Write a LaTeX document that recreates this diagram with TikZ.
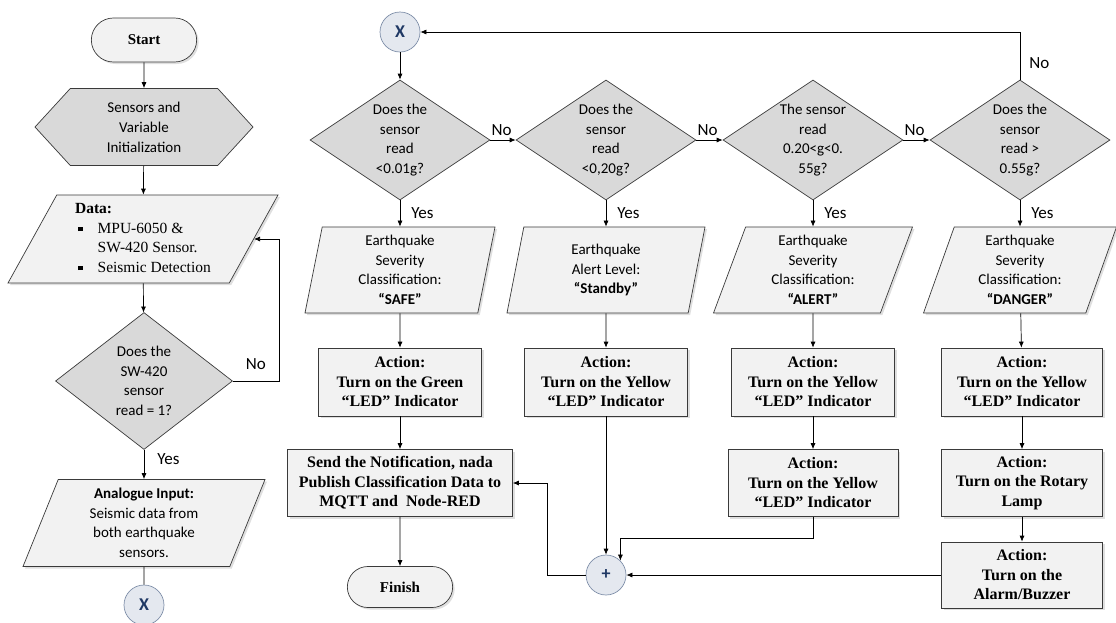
\documentclass[tikz,border=0pt]{standalone}
\usepackage{fontspec}
\setmainfont{Liberation Serif}
\newfontfamily\calib{Carlito}
\usetikzlibrary{shapes.geometric,shapes.misc,shapes.symbols,arrows.meta,shadows}
\definecolor{boxfill}{HTML}{F2F2F2}
\definecolor{decfill}{HTML}{D9D9D9}
\definecolor{conline}{HTML}{7F8FA9}
\definecolor{confill}{HTML}{E4E8EF}
\definecolor{connavy}{HTML}{1F3864}
\definecolor{edgegray}{HTML}{3A3A3A}
\newcommand{\sqbul}{\rule[2pt]{4.5pt}{4.5pt}}
\tikzset{
	boxshadow/.style={drop shadow={shadow xshift=2pt,shadow yshift=-2pt,opacity=0.25}},
	term/.style={rounded rectangle,draw=edgegray,line width=0.7pt,fill=boxfill,boxshadow,minimum width=112pt,minimum height=44pt,font=\fontsize{15}{19}\selectfont\bfseries},
	prep/.style={signal,signal to=east and west,signal pointer angle=95,draw=edgegray,line width=0.7pt,fill=decfill,minimum width=218pt,minimum height=77pt,inner sep=0pt,align=center,font=\calib\fontsize{15}{20}\selectfont},
	io/.style={trapezium,trapezium left angle=#1,trapezium right angle/.evaluated={180-#1},trapezium stretches body,draw=edgegray,line width=0.7pt,fill=boxfill,boxshadow,inner sep=0pt,align=center,minimum height=86pt,minimum width=196pt,font=\calib\fontsize{15}{19.5}\selectfont},
	decision/.style={diamond,shape aspect=1.5,draw=edgegray,line width=0.7pt,fill=decfill,minimum width=180pt,minimum height=120pt,inner sep=0pt,align=center,font=\calib\fontsize{15}{19.5}\selectfont},
	act/.style={rectangle,draw=edgegray,line width=0.7pt,fill=boxfill,boxshadow,minimum width=163pt,minimum height=68pt,inner sep=2pt,align=center,font=\fontsize{16}{19.5}\selectfont\bfseries},
	conn/.style={circle,draw=conline,line width=0.7pt,fill=confill,minimum size=40pt,inner sep=0pt,text=connavy,font=\calib\fontsize{18}{18}\selectfont\bfseries},
	arr/.style={draw=black,line width=0.7pt,-{Latex[length=6pt,width=5pt]}},
	lbl/.style={inner sep=1pt,font=\calib\fontsize{17}{17}\selectfont}
}
\begin{document}
\begin{tikzpicture}[x=1pt,y=-1pt]
	\useasboundingbox (0,0) rectangle (1116,622);
	
	\node[term] (start) at (144,40) {Start};
	\node[prep] (init) at (144,127) {Sensors and\\Variable\\Initialization};
	\node[io=58,minimum width=270pt,minimum height=88pt,font=\fontsize{15.5}{19.5}\selectfont] (data) at (143,239) {\begin{tabular}{@{}l@{\hspace{15pt}}l@{}}
		\multicolumn{2}{@{}l}{\textbf{Data:}}\\
		\hspace*{3pt}\sqbul & MPU-6050 \&\\
		 & SW-420 Sensor.\\
		\hspace*{3pt}\sqbul & Seismic Detection
	\end{tabular}};
	\node[decision,minimum width=177pt,minimum height=137pt,shape aspect=1.3] (ld) at (144,381) {Does the\\SW-420\\sensor\\read = 1?};
	\node[io=63,minimum width=242pt,minimum height=87pt] (ana) at (144,523) {\textbf{Analogue Input:}\\Seismic data from\\both earthquake\\sensors.};
	\node[conn] (lx) at (144,605) {X};
	
	\node[conn] (xtop) at (400,32) {X};
	\node[decision] (d1) at (400,140) {Does the\\sensor\\read\\<0.01g?};
	\node[decision] (d2) at (606,140) {Does the\\sensor\\read\\<0,20g?};
	\node[decision] (d3) at (813,140) {The sensor\\read\\0.20<g<0.\\55g?};
	\node[decision] (d4) at (1020,140) {Does the\\sensor\\read >\\0.55g?};
	
	\node[io=76,minimum width=190pt] (p1) at (400,270) {Earthquake\\Severity\\Classification:\\\textbf{“SAFE”}};
	\node[io=72,minimum width=198pt] (p2) at (606,270) {Earthquake\\Alert Level:\\\textbf{“Standby”}};
	\node[io=65,minimum width=199pt] (p3) at (813,270) {Earthquake\\Severity\\Classification:\\\textbf{“ALERT”}};
	\node[io=66,minimum width=193pt] (p4) at (1020,270) {Earthquake\\Severity\\Classification:\\\textbf{“DANGER”}};
	
	\node[act] (a1) at (400,382) {Action:\\Turn on the Green\\“LED” Indicator};
	\node[act] (a2) at (606,382) {Action:\\Turn on the Yellow\\“LED” Indicator};
	\node[act] (a3) at (813,382) {Action:\\Turn on the Yellow\\“LED” Indicator};
	\node[act,minimum width=161pt] (a4) at (1022,382) {Action:\\Turn on the Yellow\\“LED” Indicator};
	
	\node[act,minimum width=225pt,minimum height=67pt] (send) at (400,483) {Send the Notification, nada\\Publish Classification Data to\\MQTT and~~Node-RED};
	\node[act,minimum width=170pt,minimum height=67pt] (a3b) at (813,483) {Action:\\Turn on the Yellow\\“LED” Indicator};
	\node[act,minimum width=161pt,minimum height=67pt] (a4b) at (1022,483) {Action:\\Turn on the Rotary\\Lamp};
	\node[act,minimum width=161pt,minimum height=66pt] (a4c) at (1022,575) {Action:\\Turn on the\\Alarm/Buzzer};
	
	\node[term,minimum height=41pt] (fin) at (400,587) {Finish};
	\node[conn] (plus) at (606,575) {+};
	
	\draw[arr] (start) -- (init);
	\draw[arr] (init) -- (data);
	\draw[arr] (data) -- (ld);
	\draw[arr] (ld.east) -- node[lbl,above=10pt] (nol) {No} ++(46,0) |- (data.east);
	\draw[arr] (ld) -- node[lbl,right=12pt,pos=0.3] (yesl) {Yes} (ana);
	\draw[line width=0.7pt] (ana) -- (lx);
	
	\draw[arr] (xtop) -- (d1);
	\draw[arr] (d1.east) -- node[lbl,pos=0,above right,yshift=3pt] (no1) {No} (d2.west);
	\draw[arr] (d2.east) -- node[lbl,pos=0,above right,yshift=3pt] (no2) {No} (d3.west);
	\draw[arr] (d3.east) -- node[lbl,pos=0,above right,yshift=3pt] (no3) {No} (d4.west);
	\draw[arr] (d4.north) |- node[lbl,pos=0.17,right=8pt] (no4) {No} (xtop.east);
	\draw[arr] (d1) -- node[lbl,right=10pt] (yes1) {Yes} (p1);
	\draw[arr] (d2) -- node[lbl,right=10pt] (yes2) {Yes} (p2);
	\draw[arr] (d3) -- node[lbl,right=10pt] (yes3) {Yes} (p3);
	\draw[arr] (d4) -- node[lbl,right=10pt] (yes4) {Yes} (p4);
	
	\draw[arr] (p1) -- (a1);
	\draw[arr] (p2) -- (a2);
	\draw[arr] (p3) -- (a3);
	\draw[arr] (p4) -- (a4);
	\draw[arr] (a1) -- (send);
	\draw[arr] (send) -- (fin);
	\draw[arr] (a3) -- (a3b);
	\draw[arr] (a4) -- (a4b);
	\draw[arr] (a4b) -- (a4c);
	\draw[arr] (a2) -- (plus);
	\draw[arr] (a3b.south) -- ++(0,21) -| (plus.north east);
	\draw[arr] (a4c.west) -- (plus.east);
	\draw[arr] (plus.west) -- ++(-38,0) |- (send.east);
\end{tikzpicture}
\end{document}
